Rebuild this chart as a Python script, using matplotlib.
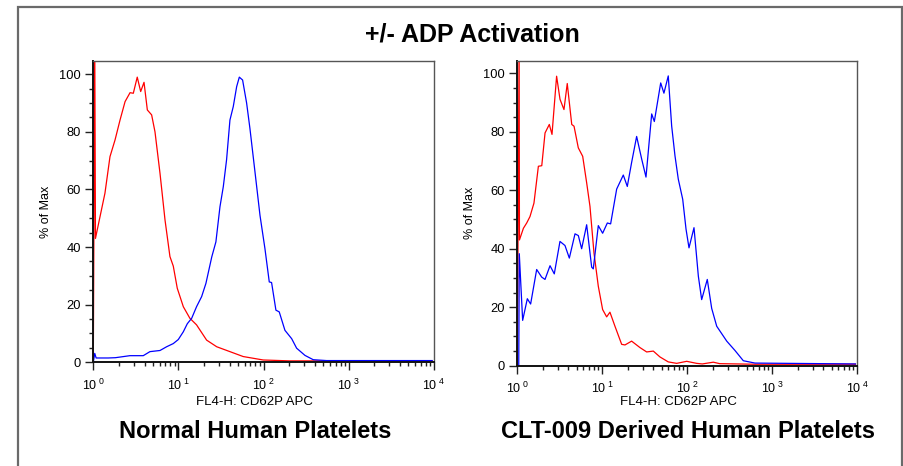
import matplotlib
matplotlib.use("Agg")
import matplotlib.pyplot as plt
from matplotlib.patches import Rectangle
from matplotlib.ticker import FixedLocator, FixedFormatter, NullFormatter

plt.rcParams['font.family'] = ['Liberation Sans', 'DejaVu Sans']
plt.rcParams['mathtext.fontset'] = 'custom'
plt.rcParams['mathtext.rm'] = 'Liberation Sans'
plt.rcParams['mathtext.it'] = 'Liberation Sans'

# ---------------- data ----------------
title = "+/- ADP Activation"
panel_titles = ["Normal Human Platelets", "CLT-009 Derived Human Platelets"]
x_label = "FL4-H: CD62P APC"
y_label = "% of Max"
x_major = [1, 10, 100, 1000, 10000]
x_tick_labels = ["10$^{\\ 0}$", "10$^{\\ 1}$", "10$^{\\ 2}$", "10$^{\\ 3}$", "10$^{\\ 4}$"]
y_major = [0, 20, 40, 60, 80, 100]

# Normal platelets, unstimulated (red)
normal_ctrl_x = [1.00, 1.04, 1.06, 1.20, 1.37, 1.57, 1.80, 2.06, 2.36, 2.70, 2.95, 3.28, 3.60,
                 3.94, 4.31, 4.84, 5.30, 6.07, 6.95, 7.94, 8.69, 9.68, 11.4, 13.6, 16.3, 21.4,
                 28.1, 40.2, 57.5, 98.9, 200, 1000, 9500]
normal_ctrl_y = [0, 110, 43, 50.6, 58.7, 71.4, 77.2, 84.1, 90.5, 93.6, 93.4, 99.0, 94.0,
                 97.2, 87.6, 85.9, 80.0, 65.6, 49.4, 36.7, 33.4, 25.7, 19.3, 15.3, 13.0, 7.7,
                 5.4, 3.7, 2.0, 0.8, 0.5, 0.5, 0.5]
# Normal platelets, +ADP (blue)
normal_adp_x = [1.00, 1.04, 1.08, 1.50, 1.82, 2.69, 3.86, 4.62, 6.07, 7.26, 8.69, 9.95, 11.4,
                12.7, 14.3, 16.3, 18.7, 21.0, 24.6, 27.5, 30.7, 33.6, 36.7, 40.2, 44.0, 48.2,
                51.8, 56.6, 63.1, 69.0, 79.1, 90.6, 103.5, 116.4, 123.9, 139.3, 152.4, 177.8,
                213.3, 243.8, 305.5, 382, 548, 9500]
normal_adp_y = [0, 3.1, 1.5, 1.5, 1.6, 2.3, 2.3, 3.7, 4.1, 5.4, 6.5, 7.9, 10.6,
                13.4, 15.3, 19.3, 22.8, 27.4, 36.6, 41.8, 54.0, 61.0, 70.3, 84.1, 88.8, 95.7,
                99.0, 98.0, 90.0, 81.2, 66.1, 51.0, 39.5, 27.9, 27.7, 18.1, 17.5, 11.1,
                8.2, 4.9, 2.4, 0.9, 0.6, 0.6]

# CLT-009 derived platelets, unstimulated (red)
clt_ctrl_x = [1.00, 1.05, 1.06, 1.18, 1.29, 1.41, 1.57, 1.77, 1.94, 2.12, 2.38, 2.56, 2.90,
              3.18, 3.54, 3.87, 4.37, 4.65, 5.22, 5.88, 6.55, 7.16, 7.98, 8.97, 10.09, 11.25,
              12.30, 14.09, 16.90, 18.49, 22.13, 27.73, 33.27, 39.81, 47.64, 59.70, 75.0,
              98.4, 128.8, 150, 202.3, 240, 630, 9500]
clt_ctrl_y = [0, 110, 43, 47.0, 48.8, 51.0, 55.6, 68.2, 68.4, 79.6, 82.5, 79.1, 99.0,
              91.1, 87.6, 96.5, 82.5, 81.9, 74.5, 71.6, 62.5, 54.5, 38.6, 27.2, 19.2, 16.7,
              18.3, 13.5, 7.3, 7.1, 8.4, 6.2, 4.7, 5.0, 3.0, 1.3, 0.8,
              1.5, 0.8, 0.6, 1.2, 0.7, 0.5, 0.5]
# CLT-009 derived platelets, +ADP (blue)
clt_adp_x = [1.04, 1.055, 1.156, 1.312, 1.435, 1.690, 1.936, 2.118, 2.427, 2.723, 3.177, 3.639,
             4.093, 4.775, 5.224, 5.715, 6.546, 7.499, 7.834, 8.974, 10.09, 11.46, 12.53, 14.76,
             17.66, 19.68, 22.13, 25.35, 29.04, 32.66, 38.11, 40.93, 48.64, 53.09, 59.70, 65.46,
             71.61, 78.34, 88.31, 96.61, 104.7, 119.9, 134.9, 147.6, 171.8, 193.6, 221.8, 291.1,
             363.9, 456.0, 625.2, 9500]
clt_adp_y = [0, 38.3, 15.5, 22.9, 21.1, 32.9, 30.3, 29.5, 34.2, 31.4, 42.5, 41.1,
             36.8, 45.1, 44.5, 40.0, 48.2, 33.7, 33.1, 47.9, 45.3, 48.8, 48.5, 60.4,
             65.2, 61.3, 69.5, 78.4, 70.7, 64.5, 86.1, 83.5, 96.7, 93.2, 99.1, 82.0,
             71.8, 63.8, 56.9, 46.7, 40.3, 47.2, 30.6, 22.6, 29.5, 19.6, 13.5, 8.4,
             5.2, 1.7, 0.9, 0.6]

panels = [
    dict(ctrl=(normal_ctrl_x, normal_ctrl_y), adp=(normal_adp_x, normal_adp_y),
         rect=[93.3 / 904, 1 - 362.3 / 466, 340.7 / 904, 301.3 / 466], ytop=104.6,
         xlab_x=254 / 904, name_x=255 / 904),
    dict(ctrl=(clt_ctrl_x, clt_ctrl_y), adp=(clt_adp_x, clt_adp_y),
         rect=[517.3 / 904, 1 - 365.7 / 466, 340.0 / 904, 304.7 / 466], ytop=104.2,
         xlab_x=678 / 904, name_x=688 / 904),
]

fig = plt.figure(figsize=(9.04, 4.66), dpi=100)

# outer frame
fig.patches.append(Rectangle((18 / 904, -0.05), (902 - 18) / 904, 1.05 - 7 / 466,
                             transform=fig.transFigure, fill=False, edgecolor='#6a6a6a',
                             linewidth=1.6, clip_on=False))

fig.text(472 / 904, 1 - 34 / 466, title, ha='center', va='center',
         fontsize=18, fontweight='bold')

for i, p in enumerate(panels):
    ax = fig.add_axes(p['rect'])
    ax.set_xscale('log')
    ax.plot(p['ctrl'][0], p['ctrl'][1], color='#ff0000', lw=0.9)
    ax.plot(p['adp'][0], p['adp'][1], color='#0000ff', lw=0.9)
    ax.set_xlim(1, 10000)
    ax.set_ylim(0, p['ytop'])

    ax.xaxis.set_major_locator(FixedLocator(x_major))
    ax.xaxis.set_major_formatter(FixedFormatter(x_tick_labels))
    minors = [m * d for d in [1, 10, 100, 1000] for m in range(2, 10)]
    ax.xaxis.set_minor_locator(FixedLocator(minors))
    ax.xaxis.set_minor_formatter(NullFormatter())
    ax.yaxis.set_major_locator(FixedLocator(y_major))
    ax.yaxis.set_minor_locator(FixedLocator(list(range(0, 105, 5))))

    ax.tick_params(axis='both', which='major', direction='out', length=6, width=1.0,
                   color='#222222')
    ax.tick_params(axis='both', which='minor', direction='out', length=3, width=1.0,
                   color='#222222')
    ax.tick_params(axis='x', which='major', labelsize=9, pad=5)
    ax.tick_params(axis='y', which='major', labelsize=9.3, pad=3)

    for s in ['left', 'bottom']:
        ax.spines[s].set_linewidth(1.4)
        ax.spines[s].set_color('#111111')
    for s in ['top', 'right']:
        ax.spines[s].set_linewidth(1.0)
        ax.spines[s].set_color('#555555')

    ax.set_ylabel(y_label, fontsize=9, labelpad=5)
    fig.text(p['xlab_x'], 1 - 402 / 466, x_label, ha='center', va='center', fontsize=9.5)
    fig.text(p['name_x'], 1 - 431 / 466, panel_titles[i], ha='center', va='center',
             fontsize=17, fontweight='bold')

fig.savefig('out.png', dpi=100)
